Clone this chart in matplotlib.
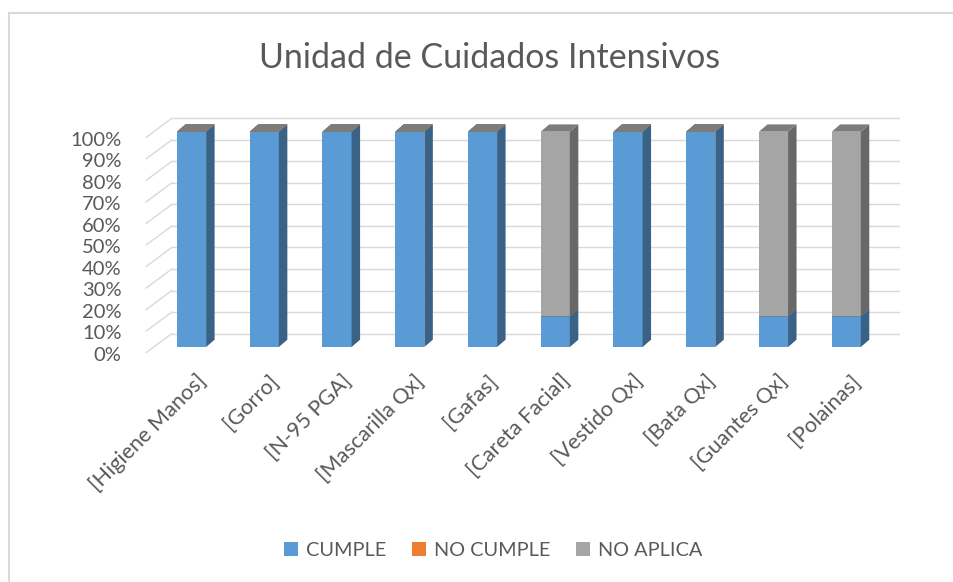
import matplotlib
matplotlib.use('Agg')
import matplotlib.pyplot as plt
import matplotlib.transforms as mtransforms
from matplotlib.patches import Polygon, Rectangle
import numpy as np

plt.rcParams['font.family'] = ['Lato', 'DejaVu Sans']

categories = ['[Higiene Manos]', '[Gorro]', '[N-95 PGA]', '[Mascarilla Qx]', '[Gafas]',
              '[Careta Facial]', '[Vestido Qx]', '[Bata Qx]', '[Guantes Qx]', '[Polainas]']
cumple = [100, 100, 100, 100, 100, 14.3, 100, 100, 14.3, 14.3]
no_cumple = [0, 0, 0, 0, 0, 0, 0, 0, 0, 0]
no_aplica = [0, 0, 0, 0, 0, 85.7, 0, 0, 85.7, 85.7]

series = [('CUMPLE', cumple, '#5B9BD5'),
          ('NO CUMPLE', no_cumple, '#ED7D31'),
          ('NO APLICA', no_aplica, '#A5A5A5')]
yticks = np.arange(0, 101, 10)

txt = '#595959'
grid_c = '#D9D9D9'
W, H = 954, 582

fig = plt.figure(figsize=(W / 100, H / 100), dpi=100)
# axes placed in pixels: bar front plane
ax = fig.add_axes([137 / W, 235 / H, 763.8 / W, 215.3 / H])
ax.set_xlim(-0.75, 9.75)
ax.set_ylim(0, 100)
for s in ax.spines.values():
    s.set_visible(False)

# chart border (right/bottom edge fall outside the picture)
fig.patches.append(Rectangle((9 / W, -0.1), 1.2, (H - 13) / H + 0.1, transform=fig.transFigure,
                             fill=False, edgecolor='#D9D9D9', linewidth=1.5))

fig.text(490 / W, 1 - 58 / H, 'Unidad de Cuidados Intensivos', ha='center', va='center',
         fontsize=24.5, color=txt)

ident = mtransforms.IdentityTransform()
front_off = np.array([-7.6, -5.6])
back_off = np.array([18.1, 13.4])
bar_off = np.array([8.5, 7.3])
floor_l, floor_r = -0.52, 9.48


def px(x, y):
    return ax.transData.transform((x, y))


def shade(c, f):
    r, g, b = matplotlib.colors.to_rgb(c)
    return (r * f, g * f, b * f)


# back wall gridlines and side wall lines
for v in yticks:
    a = px(floor_l, v)
    b = px(floor_r, v)
    ax.add_line(plt.Line2D([a[0] + back_off[0], b[0] + back_off[0]],
                           [a[1] + back_off[1], b[1] + back_off[1]],
                           transform=ident, color=grid_c, lw=1.0, clip_on=False, zorder=0))
    ax.add_line(plt.Line2D([a[0] + front_off[0], a[0] + back_off[0]],
                           [a[1] + front_off[1], a[1] + back_off[1]],
                           transform=ident, color=grid_c, lw=1.0, clip_on=False, zorder=0))

# stacked bars with side and top faces
x = np.arange(len(categories))
width = 0.4
bottom = np.zeros(len(categories))
handles = []
z = 2
for name, vals, col in series:
    vals = np.array(vals, dtype=float)
    bars = ax.bar(x, vals, width, bottom=bottom, color=col, linewidth=0, label=name, zorder=z)
    handles.append(bars)
    for i in range(len(x)):
        xl, xr = x[i] - width / 2, x[i] + width / 2
        yb, yt = bottom[i], bottom[i] + vals[i]
        p_rb, p_rt, p_lt = px(xr, yb), px(xr, yt), px(xl, yt)
        side = [p_rb, p_rb + bar_off, p_rt + bar_off, p_rt]
        top = [p_lt, p_rt, p_rt + bar_off, p_lt + bar_off]
        ax.add_patch(Polygon(side, closed=True, transform=ident, facecolor=shade(col, 0.63),
                             edgecolor='none', clip_on=False, zorder=z))
        ax.add_patch(Polygon(top, closed=True, transform=ident, facecolor=shade(col, 0.75),
                             edgecolor='none', clip_on=False, zorder=z + 0.5))
    bottom = bottom + vals
    z += 1

# y labels sit on the front edge of the side wall
ax.set_yticks(yticks)
ax.set_yticklabels([f'{v}%' for v in yticks])
ax.tick_params(axis='y', length=0, pad=11, labelsize=14.5, labelcolor=txt)
down = mtransforms.ScaledTranslation(0, -7 / 100, fig.dpi_scale_trans)
for lab in ax.get_yticklabels():
    lab.set_transform(lab.get_transform() + down)

ax.set_xticks(x)
ax.set_xticklabels(categories, rotation=45, ha='right', rotation_mode='anchor')
ax.tick_params(axis='x', length=0, pad=17, labelsize=15.5, labelcolor=txt)
right = mtransforms.ScaledTranslation(4 / 100, 0, fig.dpi_scale_trans)
for lab in ax.get_xticklabels():
    lab.set_transform(lab.get_transform() + right)

leg = fig.legend(handles=handles, loc='center', bbox_to_anchor=(493 / W, 1 - 550 / H),
                 ncol=3, frameon=False, fontsize=14.3, handlelength=0.7, handleheight=0.7,
                 handletextpad=0.4, columnspacing=1.3)
for t in leg.get_texts():
    t.set_color(txt)

fig.savefig('out.png', dpi=100)
